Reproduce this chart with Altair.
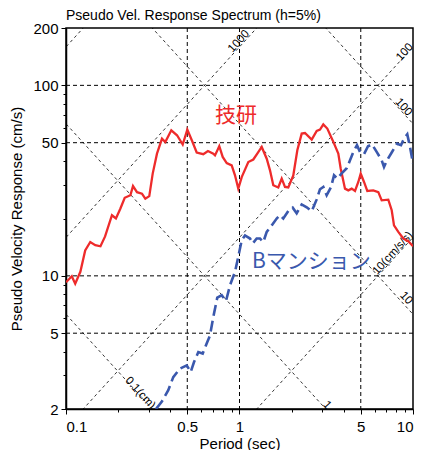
import altair as alt
import pandas as pd
import numpy as np

# ---- data ----
period_giken = [0.1, 0.108, 0.113, 0.121, 0.129, 0.138, 0.1475, 0.158, 0.168, 0.184, 0.194, 0.2056, 0.218, 0.235,
                0.2433, 0.2566, 0.274, 0.2865, 0.302, 0.316, 0.3345, 0.3575, 0.3735, 0.4045, 0.4364, 0.4706, 0.5003,
                0.5325, 0.5667, 0.6185, 0.658, 0.7063, 0.7225, 0.7646, 0.8, 0.844, 0.9016, 0.942, 0.984, 1.03, 1.124,
                1.201, 1.266, 1.343, 1.435, 1.499, 1.566, 1.673, 1.751, 1.829, 1.911, 2.042, 2.154, 2.283, 2.385,
                2.607, 2.786, 2.911, 3.041, 3.207, 3.445, 3.711, 3.83, 4.055, 4.237, 4.433, 4.632, 4.839, 4.996,
                5.22, 5.453, 5.904, 6.31, 6.6, 7.205, 7.538, 7.772, 8.229, 8.794, 9.395, 10.0]
sv_giken = [9.25, 9.95, 9.1, 10.5, 13.6, 15.05, 14.5, 14.3, 16.1, 20.8, 20.0, 22.5, 25.7, 26.5, 29.6, 27.5, 27.0,
            25.4, 26.2, 34.4, 43.8, 52.5, 50.4, 58.1, 54.7, 48.9, 58.6, 51.2, 44.4, 43.5, 45.2, 43.8, 42.9, 47.9,
            42.1, 39.1, 38.0, 33.7, 28.7, 33.0, 39.6, 40.8, 43.8, 47.5, 41.2, 35.8, 29.9, 29.1, 32.4, 29.3, 29.1,
            33.7, 45.6, 55.8, 56.2, 51.9, 57.6, 58.6, 62.4, 59.3, 51.4, 43.8, 36.6, 28.7, 28.1, 28.7, 27.9, 31.1,
            34.4, 31.1, 27.9, 28.1, 27.5, 24.9, 25.1, 22.1, 18.4, 17.0, 15.7, 15.2, 14.3]

period_bm = [0.33, 0.356, 0.3886, 0.4152, 0.4541, 0.4964, 0.5234, 0.5469, 0.5789, 0.6136, 0.6521, 0.6761, 0.7063,
             0.7447, 0.7896, 0.8361, 0.8815, 0.942, 0.984, 1.03, 1.076, 1.15, 1.192, 1.256, 1.313, 1.372, 1.435,
             1.533, 1.638, 1.712, 1.788, 1.911, 2.026, 2.136, 2.283, 2.44, 2.607, 2.786, 2.911, 3.041, 3.181, 3.37,
             3.506, 3.663, 3.882, 4.148, 4.335, 4.529, 4.756, 4.949, 5.22, 5.504, 5.803, 6.2, 6.6, 6.806, 7.08,
             7.568, 8.088, 8.527, 8.873, 9.271, 9.61, 10.0]
sv_bm = [2.0, 2.18, 2.51, 2.94, 3.26, 3.39, 3.13, 3.53, 3.98, 3.91, 4.49, 4.87, 6.08, 7.69, 7.91, 7.38, 8.92, 10.5,
         12.6, 15.4, 16.3, 15.7, 14.8, 15.7, 15.7, 15.05, 17.0, 18.4, 20.0, 20.8, 20.0, 21.9, 22.8, 21.3, 23.7,
         22.9, 21.8, 25.2, 28.5, 29.3, 26.5, 29.2, 33.7, 32.4, 34.5, 36.7, 40.4, 44.7, 48.5, 44.7, 43.5, 47.9,
         49.0, 44.5, 40.4, 37.3, 40.4, 44.7, 49.4, 48.5, 52.5, 55.3, 47.5, 38.8]

x_major = [0.1, 0.5, 1, 5, 10]
y_major = [2, 5, 10, 50, 100, 200]
x_minor = [0.1, 0.2, 0.3, 0.4, 0.5, 0.6, 0.7, 0.8, 0.9, 1, 2, 3, 4, 5, 6, 7, 8, 9, 10]
y_minor = [2, 3, 4, 5, 6, 7, 8, 9, 10, 20, 30, 40, 50, 60, 70, 80, 90, 100, 200]
x_grid = [0.5, 1, 5]
y_grid = [5, 10, 50, 100]

disp_levels = [0.1, 1, 10, 100]          # cm
accel_levels = [10, 100, 1000, 10000]    # cm/s/s

diag_text = ["1000", "100", "100", "10(cm/s/s)", "10", "1", "0.1(cm)"]
diag_T = [0.993, 8.99, 8.8, 7.67, 9.11, 3.19, 0.267]
diag_sv = [170, 149, 76.7, 13.1, 7.62, 2.09, 2.42]
diag_kind = ["acc", "acc", "disp", "acc", "disp", "disp", "disp"]

ann_text = ["技研", "Bマンション"]
ann_T = [0.7225, 1.18]
ann_sv = [68.8, 11.8]

RED = "#ee2b2b"
BLUE = "#3a58ad"

xs = alt.Scale(type="log", domain=[0.1, 10], nice=False)
ys = alt.Scale(type="log", domain=[2, 200], nice=False)

# ---- tripartite reference lines ----
rows = []
Tends = [0.05, 20.0]
for d in disp_levels:
    for T in Tends:
        rows.append({"id": f"d{d}", "T": T, "sv": 2 * np.pi * d / T})
for a in accel_levels:
    for T in Tends:
        rows.append({"id": f"a{a}", "T": T, "sv": a * T / (2 * np.pi)})
diag_df = pd.DataFrame(rows)

ang = float(np.degrees(np.arctan((190.5) / (173.5))))
lab_df = pd.DataFrame({"text": diag_text, "T": diag_T, "sv": diag_sv,
                       "angle": [360 - ang if k == "acc" else ang for k in diag_kind]})

major_x_test = "indexof([0.1,0.5,1,5,10], datum.value) >= 0"
major_y_test = "indexof([2,5,10,50,100,200], datum.value) >= 0"

x_axis = alt.Axis(values=x_minor, format="~g", labelExpr=f"{major_x_test} ? datum.label : ''",
                  grid=False, tickSize={"condition": {"test": major_x_test, "value": 5}, "value": 3},
                  title="Period (sec)", labelPadding=5, titlePadding=2, titleFontWeight="normal")
y_axis = alt.Axis(values=y_minor, format="~g", labelExpr=f"{major_y_test} ? datum.label : ''",
                  grid=False, tickSize={"condition": {"test": major_y_test, "value": 5}, "value": 3},
                  title="Pseudo Velocity Response (cm/s)", labelPadding=3, titlePadding=8,
                  titleFontWeight="normal")


def X(f):
    return alt.X(f, scale=xs, axis=x_axis)


def Y(f):
    return alt.Y(f, scale=ys, axis=y_axis)


gx = alt.Chart(pd.DataFrame({"g": x_grid})).mark_rule(color="black", strokeDash=[4, 3], strokeWidth=1).encode(
    x=X("g:Q"))
gy = alt.Chart(pd.DataFrame({"g": y_grid})).mark_rule(color="black", strokeDash=[4, 3], strokeWidth=1).encode(
    y=Y("g:Q"))

diag = alt.Chart(diag_df).mark_line(clip=True, color="black", strokeDash=[3, 3], strokeWidth=0.8).encode(
    x=X("T:Q"), y=Y("sv:Q"), detail="id:N")

diag_lab = alt.Chart(lab_df).mark_text(font="Liberation Sans", fontSize=11.5, color="black").encode(
    x=X("T:Q"), y=Y("sv:Q"), text="text:N", angle=alt.Angle("angle:Q", scale=None))

red = alt.Chart(pd.DataFrame({"T": period_giken, "sv": sv_giken})).mark_line(
    clip=True, color=RED, strokeWidth=2.3).encode(x=X("T:Q"), y=Y("sv:Q"))

blue = alt.Chart(pd.DataFrame({"T": period_bm, "sv": sv_bm})).mark_line(
    clip=True, color=BLUE, strokeWidth=2.6, strokeDash=[11, 5]).encode(x=X("T:Q"), y=Y("sv:Q"))

ann = alt.Chart(pd.DataFrame({"text": ann_text, "T": ann_T, "sv": ann_sv, "c": [RED, BLUE]})).mark_text(
    font="Noto Sans CJK JP", fontSize=21, align="left", baseline="middle").encode(
    x=X("T:Q"), y=Y("sv:Q"), text="text:N", color=alt.Color("c:N", scale=None))

chart = alt.layer(gx, gy, diag, diag_lab, red, blue, ann).properties(
    width=347, height=381,
    title=alt.TitleParams("Pseudo Vel. Response Spectrum (h=5%)", anchor="start", frame="group",
                          font="Liberation Sans", fontSize=14, fontWeight="normal", color="black", offset=-2),
    autosize=alt.AutoSizeParams(type="none"),
    padding={"left": 66, "top": 28, "right": 8, "bottom": 41},
).configure_view(stroke="black", strokeWidth=1.5).configure_axis(
    labelFont="Liberation Sans", titleFont="Liberation Sans", labelFontSize=15, titleFontSize=15,
    titleFontWeight="normal", labelColor="black", titleColor="black", domainColor="black",
    tickColor="black", domainWidth=1.5)

chart.save("out.html", embed_options={"renderer": "svg", "actions": False})
